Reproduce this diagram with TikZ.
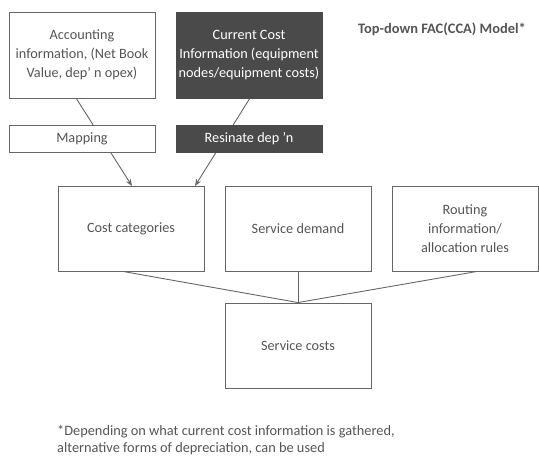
\documentclass[tikz,border=0pt]{standalone}
\usepackage{fontspec}
\setmainfont{Carlito}
\usetikzlibrary{arrows.meta}
\definecolor{txt}{HTML}{555555}
\definecolor{ln}{HTML}{666666}
\definecolor{dark}{HTML}{4A4A4A}
\begin{document}
\begin{tikzpicture}[x=1bp,y=-1bp,
  box/.style={draw=ln,line width=0.9bp,fill=white,text=txt,minimum width=146bp,inner sep=0pt,align=center,font=\fontsize{14.3}{19}\selectfont},
  darkbox/.style={box,draw=dark,fill=dark,text=white},
  conn/.style={draw=ln,line width=0.9bp},
  arr/.style={conn,-{Stealth[length=7bp,width=5.5bp]}}]
\useasboundingbox (0,0) rectangle (539,459);
% connectors behind boxes
\coordinate (a1) at (76,98);
\coordinate (a2) at (132,186);
\coordinate (b1) at (250,98);
\coordinate (b2) at (195,186);
\draw[arr] (a1) -- (a2);
\draw[arr] (b1) -- (b2);
\node[box,minimum height=86bp] (acc) at (82,55) {Accounting\\information, (Net Book\\Value, dep' n opex)};
\node[darkbox,minimum height=86bp] (cur) at (249,55) {Current Cost\\Information (equipment\\nodes/equipment costs)};
\node[box,minimum height=27bp] (map) at (82,138.5) {Mapping};
\node[darkbox,minimum height=27bp] (res) at (249,138.5) {Resinate dep 'n};
\node[box,minimum height=85bp] (cc) at (131,228.5) {Cost categories};
\node[box,minimum height=85bp] (sd) at (298,228.5) {Service demand};
\node[box,minimum height=85bp] (ri) at (465,228.5) {Routing\\information/\\allocation rules};
\node[box,minimum height=85bp] (sc) at (298,345.5) {Service costs};
\draw[conn] (cc.south -| 123,0) -- (sc.north);
\draw[conn] (sd.south) -- (sc.north);
\draw[conn] (ri.south -| 477,0) -- (sc.north);
\node[text=txt,font=\fontsize{14.5}{16}\selectfont\bfseries] (title) at (442,29) {Top-down FAC(CCA) Model*};
\node[text=txt,anchor=west,align=left,inner sep=0pt,font=\fontsize{14.4}{16.5}\selectfont] (note) at (57,440) {*Depending on what current cost information is gathered,\\alternative forms of depreciation, can be used};
\end{tikzpicture}
\end{document}
